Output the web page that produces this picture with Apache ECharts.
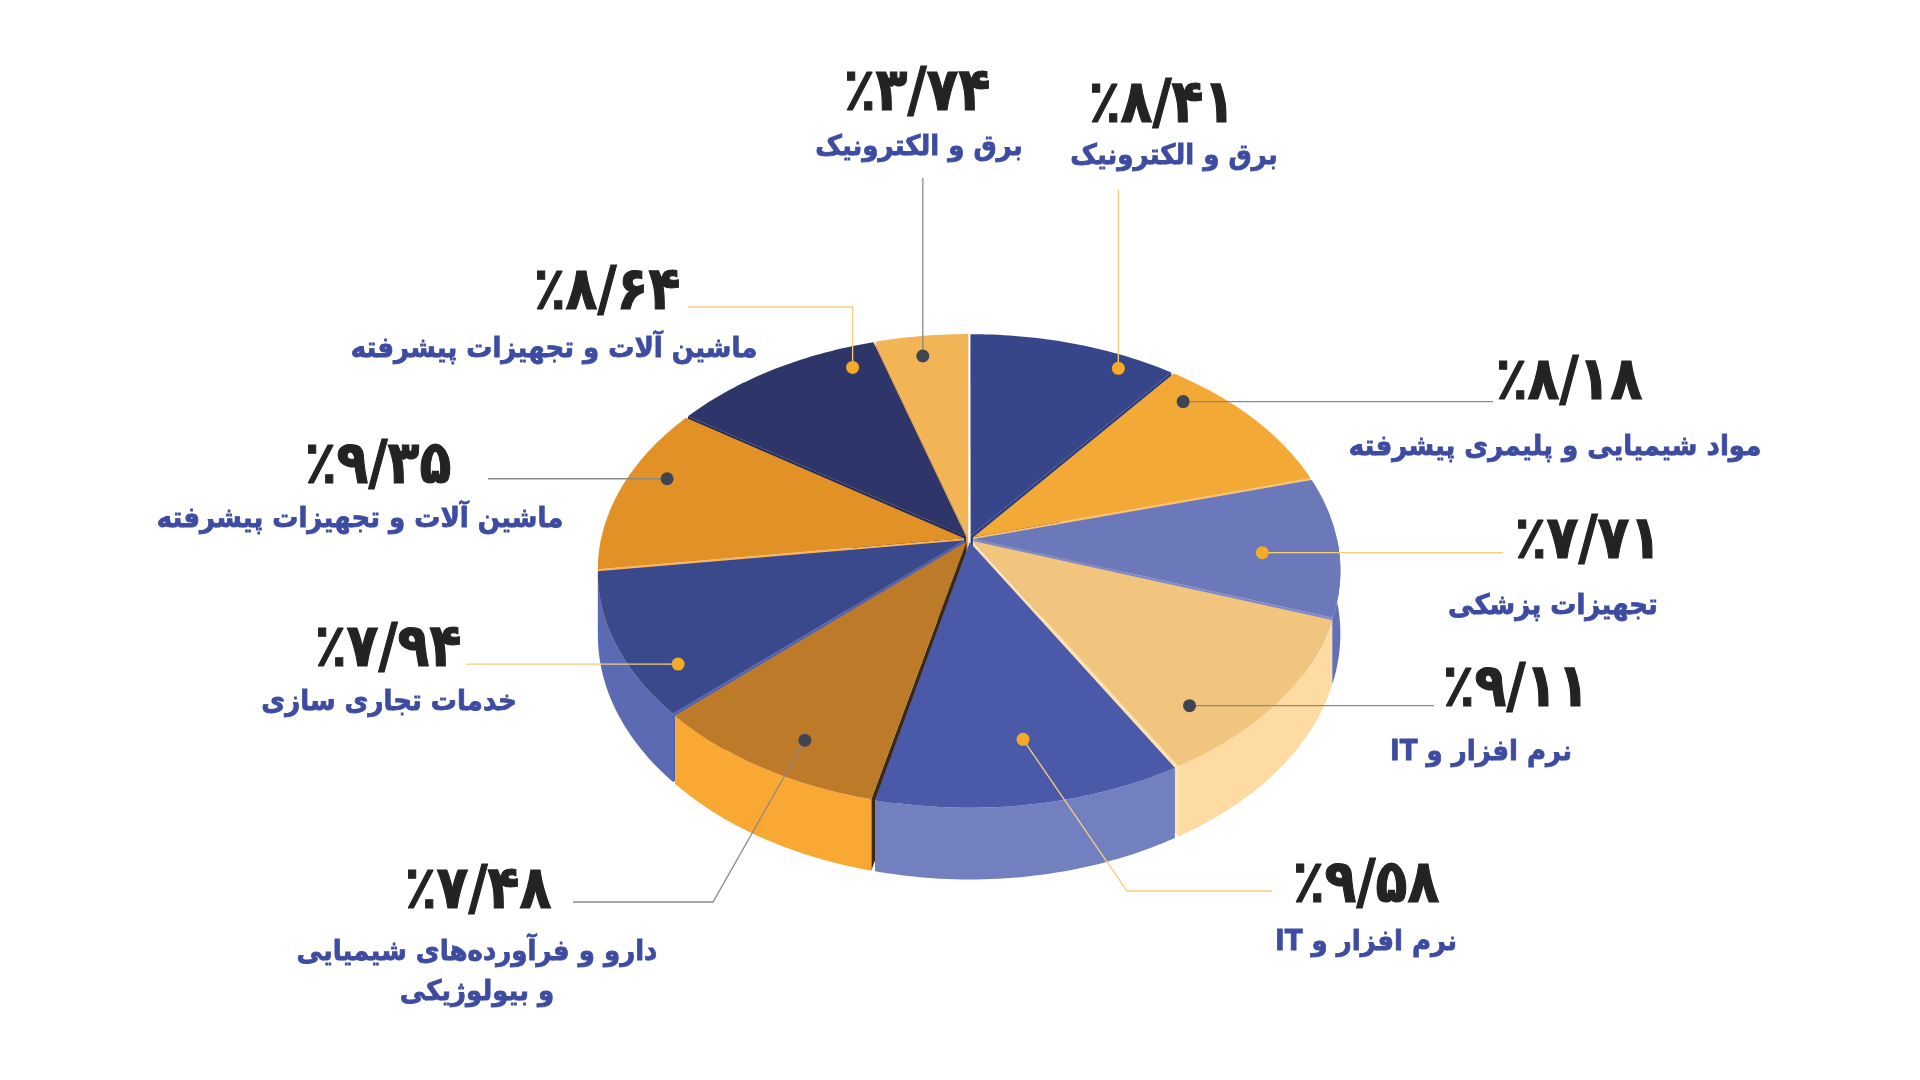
<!DOCTYPE html>
<html>
<head>
<meta charset="utf-8">
<title>سهم حوزه‌ها</title>
<script src="https://cdn.jsdelivr.net/npm/echarts@6/dist/echarts.min.js"></script>
<style>
html, body { margin: 0; padding: 0; background: #fff; }
#chart { width: 1920px; height: 1080px; }
</style>
</head>
<body>
<div id="chart"></div>
<script>
// داده‌ها
var categories = [
	'برق و الکترونیک',
	'مواد شیمیایی و پلیمری پیشرفته',
	'تجهیزات پزشکی',
	'نرم افزار و IT',
	'نرم افزار و IT',
	'دارو و فرآورده‌های شیمیایی\nو بیولوژیکی',
	'خدمات تجاری سازی',
	'ماشین آلات و تجهیزات پیشرفته',
	'ماشین آلات و تجهیزات پیشرفته',
	'برق و الکترونیک'
]
var values = [8.41, 8.18, 7.71, 9.11, 9.58, 7.48, 7.94, 9.35, 8.64, 3.74]

// رنگ‌ها
var topColors = ['#37468a', '#f3a935', '#6b78b9', '#f2c57e', '#4b5aa8', '#bd7a29', '#3a498b', '#e19125', '#2e3569', '#f2b455']
var wallColors = ['#37468a', '#f3a935', '#6470b3', '#fedba2', '#7380c0', '#f9a833', '#5c69b3', '#e8962b', '#2e3569', '#f2b455']
var sideColors = ['#2c3a7c', '#f9c27a', '#7e89c6', '#fde1b2', '#5f6cb8', '#3a2a12', '#5060b4', '#f8b565', '#262c58', '#e5a64b']
var dotYellow = '#f7a928', dotDark = '#3f4552'
var lineYellow = '#f6cf7a', lineGray = '#8a8a8a'

// جای نقطه روی هر برش: [کسر زاویه، کسر شعاع]
var dotSpots = [[0.77, 0.93], [0.18, 0.90], [0.57, 0.79], [0.76, 0.85], [0.47, 0.78],
	[0.42, 0.87], [0.25, 0.89], [0.6, 0.89], [0.84, 0.89], [0.46, 0.89]]

// جای برچسب‌ها: درصد، نام، مسیر خط راهنما
var labelLayout = [
	{ pct: [1162, 106], name: [1174, 157], path: [['x', 190]] },
	{ pct: [1569, 383], name: [1555, 448], path: [[1493, 'y']] },
	{ pct: [1588, 542], name: [1553, 607], path: [[1503, 'y']] },
	{ pct: [1516, 690], name: [1481, 753], path: [[1434, 'y']] },
	{ pct: [1366, 886], name: [1366, 943], path: [[1127, 891], [1272, 891]] },
	{ pct: [478, 892], name: [477, 973], path: [[713, 902], [573, 902]] },
	{ pct: [388, 650], name: [389, 703], path: [[466, 'y']] },
	{ pct: [378, 467], name: [360, 520], path: [[488, 'y']] },
	{ pct: [607, 293], name: [554, 350], path: [['x', 307], [688, 307]] },
	{ pct: [917, 94], name: [919, 148], path: [['x', 178]] }
]

var total = values.reduce(function(a, b) { return a + b }, 0)
var starts = []
var acc = 0
for (let i = 0; i < values.length; i++) {
	starts.push(acc)
	acc += values[i]
}

// هندسه‌ی دایره‌ی سه‌بعدی
var CX = 969, CY = 539, R = 363, A = 0.632, P = 0.133, T = 62, EXP = 5

function proj(u, v, h) {
	let k = 1 / (1 - P * v / R)
	return [CX + u * k, CY + (v * A + h) * k]
}
function disk(r, deg, off) {
	let t = deg * Math.PI / 180
	return [r * Math.sin(t) + off[0], -r * Math.cos(t) + off[1]]
}
function toFa(n) {
	let s = n.toFixed(2).replace('.', '/')
	return '٪' + s.replace(/[0-9]/g, function(d) { return '۰۱۲۳۴۵۶۷۸۹'[d] })
}
// متن‌های مخلوط با IT برای نمایش درست در بوم
function visualName(s) {
	if (s.indexOf('IT') != -1) return 'IT ' + s.replace(' IT', '').trim()
	return s
}

function renderItem(params, api) {
	let i = params.dataIndex
	let val = api.value(0)
	let a0 = starts[i] / total * 360
	let a1 = (starts[i] + val) / total * 360
	let mid = (a0 + a1) / 2
	let off = disk(EXP, mid, [0, 0])
	let children = []

	// رویه‌ی بالایی
	let topPts = [proj(off[0], off[1], 0)]
	for (let d = a0; d < a1; d += 1) {
		let p = disk(R, d, off)
		topPts.push(proj(p[0], p[1], 0))
	}
	let pe = disk(R, a1, off)
	topPts.push(proj(pe[0], pe[1], 0))
	children.push({ type: 'polygon', z2: 1000, shape: { points: topPts }, style: { fill: topColors[i] } })

	// دیواره‌ی بیرونی
	let w0 = Math.max(a0, 90), w1 = Math.min(a1, 270)
	if (w1 > w0) {
		let up = [], dn = []
		for (let d = w0; ; d += 1) {
			if (d > w1) d = w1
			let p = disk(R, d, off)
			up.push(proj(p[0], p[1], 0))
			dn.unshift(proj(p[0], p[1], T))
			if (d === w1) break
		}
		let depth = disk(R, (w0 + w1) / 2, off)[1]
		children.push({ type: 'polygon', z2: 500 + Math.round(depth), shape: { points: up.concat(dn) }, style: { fill: wallColors[i] } })
	}

	// دیواره‌های کناری
	;[[a0, -1], [a1, 1]].forEach(function(f) {
		let t = f[0] * Math.PI / 180
		if (f[1] * Math.sin(t) <= 0.02) return
		let pr = disk(R, f[0], off)
		let pts = [proj(off[0], off[1], 0), proj(pr[0], pr[1], 0), proj(pr[0], pr[1], T), proj(off[0], off[1], T)]
		let depth = (off[1] + pr[1]) / 2
		children.push({ type: 'polygon', z2: 500 + Math.round(depth), shape: { points: pts }, style: { fill: sideColors[i] } })
	})

	// نقطه و خط راهنما
	let sp = dotSpots[i]
	let dd = disk(sp[1] * R, a0 + sp[0] * (a1 - a0), off)
	let dot = proj(dd[0], dd[1], 0)
	let yellow = i % 2 == 0
	let line = [dot]
	labelLayout[i].path.forEach(function(pt) {
		let last = line[line.length - 1]
		line.push([pt[0] === 'x' ? last[0] : pt[0], pt[1] === 'y' ? last[1] : pt[1]])
	})
	children.push({ type: 'polyline', z2: 1050, shape: { points: line },
		style: { stroke: yellow ? lineYellow : lineGray, lineWidth: 1.3, fill: null } })
	children.push({ type: 'circle', z2: 1060, shape: { cx: dot[0], cy: dot[1], r: 6.5 },
		style: { fill: yellow ? dotYellow : dotDark } })

	// برچسب‌ها
	let lay = labelLayout[i]
	children.push({ type: 'text', z2: 1100, x: lay.pct[0], y: lay.pct[1], scaleX: 0.87,
		style: { text: toFa(val), fill: '#232323', stroke: '#232323', lineWidth: 1.2,
			font: 'bold 60px "DejaVu Sans"',
			align: 'center', verticalAlign: 'middle', textAlign: 'center', textVerticalAlign: 'middle' } })
	children.push({ type: 'text', z2: 1100, x: lay.name[0], y: lay.name[1], scaleX: 0.93,
		style: { text: visualName(categories[i]), fill: '#3d4ca1', stroke: '#3d4ca1', lineWidth: 0.8,
			font: 'bold 28px "DejaVu Sans"', lineHeight: 40,
			align: 'center', verticalAlign: 'middle', textAlign: 'center', textVerticalAlign: 'middle' } })

	return { type: 'group', children: children }
}

var chart = echarts.init(document.getElementById('chart'))
chart.setOption({
	backgroundColor: '#ffffff',
	animation: false,
	series: [{
		type: 'custom',
		coordinateSystem: 'none',
		renderItem: renderItem,
		data: values.map(function(v, i) { return [v, i] })
	}]
})
</script>
</body>
</html>
